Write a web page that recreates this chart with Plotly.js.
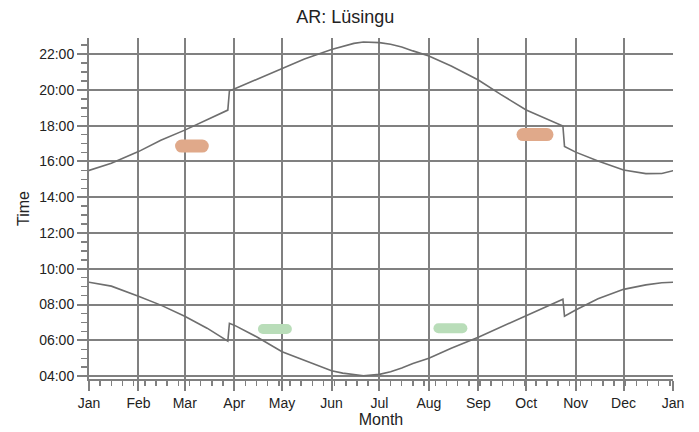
<!DOCTYPE html>
<html>
<head>
<meta charset="utf-8">
<script src="https://cdn.plot.ly/plotly-3.0.1.min.js"></script>
<style>html,body{margin:0;padding:0;background:#fff;}#chart{width:699px;height:432px;}
.scatterlayer .trace .js-line{stroke-linecap:round;}</style>
</head>
<body>
<div id="chart"></div>
<script>
// Sunset (upper curve), hours of day
var sunsetDates = ["2020-01-01","2020-01-15","2020-02-01","2020-02-15","2020-03-01","2020-03-15","2020-03-28","2020-03-29","2020-04-01","2020-04-15","2020-05-01","2020-05-15","2020-06-01","2020-06-08","2020-06-15","2020-06-21","2020-07-01","2020-07-08","2020-07-15","2020-07-22","2020-08-01","2020-08-15","2020-09-01","2020-09-15","2020-10-01","2020-10-24","2020-10-25","2020-11-01","2020-11-15","2020-12-01","2020-12-15","2020-12-25","2021-01-01"];
var sunsetHours = [15.50,15.90,16.55,17.18,17.75,18.33,18.87,19.95,20.05,20.58,21.18,21.72,22.26,22.45,22.60,22.68,22.64,22.55,22.40,22.18,21.89,21.33,20.55,19.75,18.88,17.98,16.84,16.52,16.02,15.52,15.32,15.33,15.48];

// Sunrise (lower curve), hours of day
var sunriseDates = ["2020-01-01","2020-01-15","2020-02-01","2020-02-15","2020-03-01","2020-03-15","2020-03-28","2020-03-29","2020-04-01","2020-04-15","2020-05-01","2020-05-15","2020-06-01","2020-06-08","2020-06-15","2020-06-21","2020-07-01","2020-07-08","2020-07-15","2020-07-22","2020-08-01","2020-08-15","2020-09-01","2020-09-15","2020-10-01","2020-10-24","2020-10-25","2020-11-01","2020-11-15","2020-12-01","2020-12-15","2020-12-25","2021-01-01"];
var sunriseHours = [9.25,9.03,8.47,7.97,7.35,6.68,5.96,6.95,6.85,6.20,5.36,4.88,4.30,4.17,4.08,4.02,4.10,4.25,4.45,4.70,5.00,5.56,6.18,6.74,7.35,8.30,7.35,7.70,8.32,8.85,9.10,9.22,9.25];

// Highlight marks
var dawnMarkDates = [["2020-02-28","2020-03-12"],["2020-09-29","2020-10-14"]];
var dawnMarkHours = [16.86,17.50];
var duskMarkDates = [["2020-04-19","2020-05-04"],["2020-08-07","2020-08-22"]];
var duskMarkHours = [6.63,6.68];

// Axis ticks
var monthTicks = ["2020-01-01","2020-02-01","2020-03-01","2020-04-01","2020-05-01","2020-06-01","2020-07-01","2020-08-01","2020-09-01","2020-10-01","2020-11-01","2020-12-01","2021-01-01"];
var monthLabels = ["Jan","Feb","Mar","Apr","May","Jun","Jul","Aug","Sep","Oct","Nov","Dec","Jan"];
var hourTicks = [4,6,8,10,12,14,16,18,20,22];
var hourLabels = ["04:00","06:00","08:00","10:00","12:00","14:00","16:00","18:00","20:00","22:00"];

var traces = [];
dawnMarkDates.forEach(function(d,i){
  traces.push({x:d, y:[dawnMarkHours[i],dawnMarkHours[i]], mode:'lines', line:{color:'#e0a98a', width:13}, hoverinfo:'skip', showlegend:false});
});
duskMarkDates.forEach(function(d,i){
  traces.push({x:d, y:[duskMarkHours[i],duskMarkHours[i]], mode:'lines', line:{color:'#b9ddb9', width:10}, hoverinfo:'skip', showlegend:false});
});
traces.push({x:sunsetDates, y:sunsetHours, mode:'lines', line:{color:'#6e6e6e', width:1.6}, showlegend:false});
traces.push({x:sunriseDates, y:sunriseHours, mode:'lines', line:{color:'#6e6e6e', width:1.6}, showlegend:false});

var layout = {
  width:699, height:432,
  margin:{l:89, r:26, t:38, b:53},
  paper_bgcolor:'#fff', plot_bgcolor:'#fff',
  font:{family:'"Liberation Sans", Arial, sans-serif', size:14, color:'#222'},
  title:{text:'AR: Lüsingu', x:0.494, xref:'container', y:0.962, yref:'container', yanchor:'middle', font:{size:18, color:'#222'}},
  xaxis:{
    type:'date', range:['2020-01-01','2021-01-01'],
    tickmode:'array', tickvals:monthTicks, ticktext:monthLabels,
    showgrid:true, gridcolor:'#808080', gridwidth:2,
    showline:true, linecolor:'#808080', linewidth:2,
    ticks:'outside', ticklen:10, tickwidth:2, tickcolor:'#808080',
    minor:{dtick:7*86400000, tick0:'2020-01-01', ticks:'outside', ticklen:5, tickwidth:1.5, tickcolor:'#808080', showgrid:false},
    zeroline:false,
    title:{text:'Month', standoff:2, font:{size:16}}
  },
  yaxis:{
    range:[3.84, 22.9],
    tickmode:'array', tickvals:hourTicks, ticktext:hourLabels,
    showgrid:true, gridcolor:'#808080', gridwidth:2,
    showline:true, linecolor:'#808080', linewidth:2,
    ticks:'outside', ticklen:10, tickwidth:2, tickcolor:'#808080',
    minor:{dtick:0.5, tick0:0, ticks:'outside', ticklen:6, tickwidth:1.5, tickcolor:'#808080', showgrid:false},
    zeroline:false,
    title:{text:'Time', standoff:6, font:{size:16}}
  }
};
Plotly.newPlot('chart', traces, layout, {staticPlot:true, displayModeBar:false});
</script>
</body>
</html>
